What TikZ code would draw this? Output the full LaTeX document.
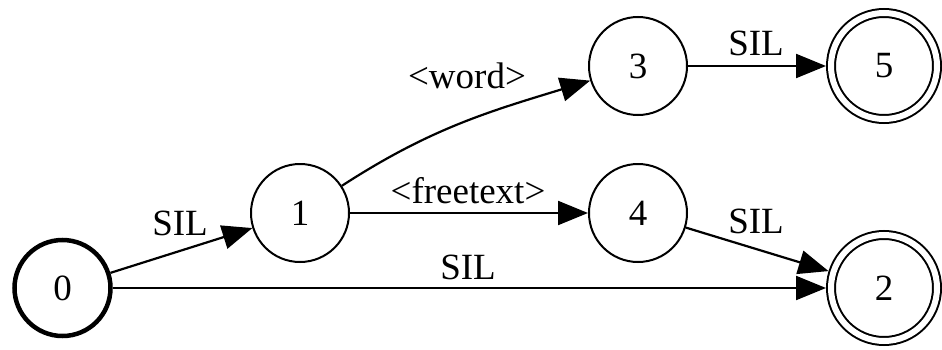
\documentclass[tikz,border=0pt]{standalone}
\usepackage{fontspec}
\setmainfont{Liberation Serif}
\usetikzlibrary{arrows.meta}
\begin{document}
\begin{tikzpicture}[x=1pt,y=1pt,
  every node/.style={font=\fontsize{37}{40}\selectfont},
  state/.style={circle, draw, line width=2pt, inner sep=0pt, minimum size=98pt},
  initstate/.style={circle, draw, line width=4.5pt, inner sep=0pt, minimum size=96pt},
  final/.style={circle, draw, line width=2pt, double, double distance=6pt,
                inner sep=0pt, minimum size=106pt, outer sep=5pt},
  lbl/.style={anchor=base, inner sep=0pt},
  edge/.style={line width=2.2pt, -{Triangle[length=30pt,width=24pt]}}]
  \useasboundingbox (0,0) rectangle (942,349);

  % states
  \node[initstate] (n0) at (62.5,61) {0};
  \node[state] (n1) at (300,136) {1};
  \node[state] (n3) at (638,283) {3};
  \node[state] (n4) at (638,136) {4};
  \node[final] (n5) at (884,283) {5};
  \node[final] (n2) at (884,61) {2};

  % transitions
  \draw[edge] (n0) -- (n1);
  \draw[edge] (n0) -- (n2);
  \draw[edge] (n1.33) to[out=33,in=197] (n3);
  \draw[edge] (n1) -- (n4);
  \draw[edge] (n3) -- (n5);
  \draw[edge] (n4) -- (n2);

  % transition labels
  \node[lbl] (l01) at (180,114) {SIL};
  \node[lbl] (l02) at (468,70) {SIL};
  \node[lbl] (l13) at (467,261) {<word>};
  \node[lbl] (l14) at (468,146) {<freetext>};
  \node[lbl] (l35) at (756,294) {SIL};
  \node[lbl] (l42) at (756,116) {SIL};
\end{tikzpicture}
\end{document}
